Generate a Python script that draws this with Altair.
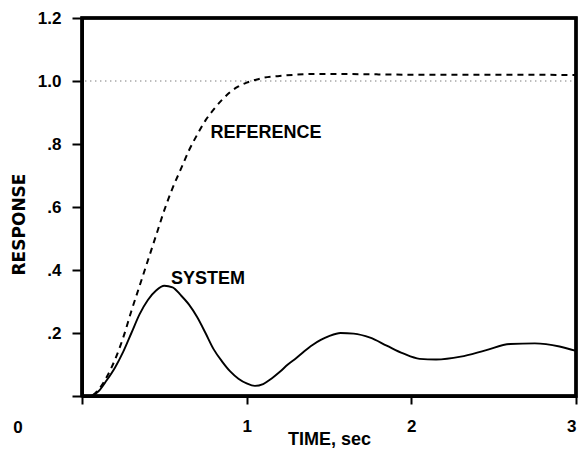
import altair as alt
import pandas as pd

# Reference (model) response
t_ref = [0, 0.05, 0.1, 0.15, 0.2, 0.25, 0.3, 0.35, 0.4, 0.45, 0.5, 0.55, 0.6, 0.65,
         0.7, 0.75, 0.8, 0.85, 0.9, 0.95, 1.0, 1.05, 1.1, 1.2, 1.3, 1.4, 1.6, 1.8,
         2.0, 2.5, 3.0]
v_ref = [0, 0.0, 0.02, 0.06, 0.115, 0.185, 0.27, 0.35, 0.43, 0.51, 0.59, 0.66, 0.72,
         0.78, 0.83, 0.875, 0.91, 0.94, 0.965, 0.983, 0.995, 1.003, 1.01, 1.016,
         1.02, 1.022, 1.022, 1.021, 1.02, 1.02, 1.019]

# System response
t_sys = [0, 0.05, 0.1, 0.15, 0.2, 0.25, 0.3, 0.35, 0.4, 0.45, 0.5, 0.55, 0.6, 0.65,
         0.7, 0.75, 0.8, 0.85, 0.9, 0.95, 1.0, 1.05, 1.1, 1.15, 1.2, 1.25, 1.3, 1.35,
         1.4, 1.45, 1.5, 1.57, 1.65, 1.75, 1.85, 1.95, 2.05, 2.15, 2.3, 2.45, 2.6,
         2.75, 2.9, 3.0]
v_sys = [0, 0.0, 0.015, 0.05, 0.09, 0.14, 0.2, 0.26, 0.305, 0.335, 0.35, 0.345, 0.32,
         0.29, 0.25, 0.2, 0.148, 0.11, 0.078, 0.055, 0.04, 0.032, 0.038, 0.055,
         0.076, 0.1, 0.12, 0.142, 0.162, 0.178, 0.19, 0.2, 0.198, 0.185, 0.16, 0.135,
         0.118, 0.116, 0.125, 0.145, 0.165, 0.167, 0.157, 0.143]

# Steady-state reference level
t_level = [0.02, 3.0]
v_level = [1.0, 1.0]

x_ticks = [0, 1, 2, 3]
y_ticks = [0, 0.2, 0.4, 0.6, 0.8, 1.0, 1.2]

labels = ["REFERENCE", "SYSTEM"]
label_t = [0.78, 0.54]
label_v = [0.82, 0.355]

# Plot frame: closed path around the data extents
frame_t = [0, 3, 3, 0, 0]
frame_v = [0, 0, 1.2, 1.2, 0]
frame_order = [0, 1, 2, 3, 4]

FONT = "Liberation Sans"
W, H = 494, 378

df_ref = pd.DataFrame({"t": t_ref, "v": v_ref})
df_sys = pd.DataFrame({"t": t_sys, "v": v_sys})
df_lvl = pd.DataFrame({"t": t_level, "v": v_level})
df_lab = pd.DataFrame({"t": label_t, "v": label_v, "text": labels})
df_frame = pd.DataFrame({"t": frame_t, "v": frame_v, "o": frame_order})

xscale = alt.Scale(domain=[0, 3], nice=False, zero=False)
yscale = alt.Scale(domain=[0, 1.2], nice=False)

xaxis = alt.Axis(values=x_ticks, title="TIME, sec", grid=False,
                 domain=True, domainColor="black", domainWidth=3,
                 tickSize=8, tickWidth=2, tickColor="black",
                 labelExpr="datum.value == 0 ? '' : format(datum.value, 'd')",
                 labelFont=FONT, labelFontSize=17, labelFontWeight="bold",
                 labelColor="black", labelPadding=14, labelFlush=True,
                 titleFont=FONT, titleFontSize=18, titleFontWeight="bold",
                 titleColor="black", titleY=43, titleBaseline="middle")
yaxis = alt.Axis(values=y_ticks, title="RESPONSE", grid=False,
                 domain=True, domainColor="black", domainWidth=3,
                 tickSize=10, tickWidth=2, tickColor="black",
                 labelExpr="datum.value == 0 ? '' : (datum.value >= 1 ? format(datum.value, '.1f') : replace(format(datum.value, '.1f'), '0.', '.'))",
                 labelFont=FONT, labelFontSize=17, labelFontWeight="bold",
                 labelColor="black", labelPadding=11, labelFlush=False,
                 titleFont="DejaVu Sans", titleFontSize=17, titleFontWeight="bold",
                 titleColor="black", titleX=-63, titleY=206, titleBaseline="middle",
                 titleAngle=270)

level = alt.Chart(df_lvl).mark_line(color="#444", strokeWidth=1.2,
                                    strokeDash=[1, 4]).encode(
    x=alt.X("t:Q", scale=xscale, axis=xaxis),
    y=alt.Y("v:Q", scale=yscale, axis=yaxis))

ref = alt.Chart(df_ref).mark_line(color="black", strokeWidth=2,
                                  strokeDash=[6, 5], interpolate="monotone").encode(
    x=alt.X("t:Q", scale=xscale), y=alt.Y("v:Q", scale=yscale))

sys = alt.Chart(df_sys).mark_line(color="black", strokeWidth=1.9,
                                  interpolate="monotone").encode(
    x=alt.X("t:Q", scale=xscale), y=alt.Y("v:Q", scale=yscale))

frame = alt.Chart(df_frame).mark_line(color="black", strokeWidth=3.5,
                                      strokeJoin="miter").encode(
    x=alt.X("t:Q", scale=xscale), y=alt.Y("v:Q", scale=yscale),
    order="o:Q")

lab = alt.Chart(df_lab).mark_text(font=FONT, fontSize=18, fontWeight="bold",
                                  align="left", baseline="alphabetic",
                                  color="black").encode(
    x=alt.X("t:Q", scale=xscale), y=alt.Y("v:Q", scale=yscale), text="text:N")

zero = alt.Chart(pd.DataFrame({"text": ["0"]})).mark_text(
    font=FONT, fontSize=17, fontWeight="bold", align="center",
    baseline="middle", color="black").encode(
    x=alt.value(-64), y=alt.value(410), text="text:N")

chart = alt.layer(level, ref, sys, frame, lab, zero).properties(
    width=W, height=H,
    autosize=alt.AutoSizeParams(type="none"),
    padding={"left": 74, "top": 10, "right": 3, "bottom": 57},
).configure_view(stroke="black", strokeWidth=3)

chart.save("out.html", embed_options={"renderer": "svg", "actions": False})
